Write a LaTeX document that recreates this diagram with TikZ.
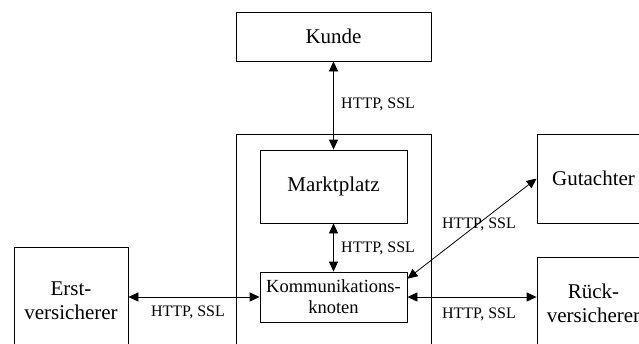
\documentclass[tikz,border=0pt]{standalone}
\usepackage{fontspec}
\setmainfont{Liberation Serif}
\usetikzlibrary{arrows.meta,calc}
\begin{document}
\begin{tikzpicture}[x=1pt,y=-1pt,
  box/.style={draw,line width=0.8pt,inner sep=0pt,align=center,font=\fontsize{21}{24}\selectfont},
  conn/.style={line width=0.8pt,{Triangle[length=10pt,width=9pt]}-{Triangle[length=10pt,width=9pt]}},
  lbl/.style={font=\fontsize{16}{18}\selectfont,inner sep=0pt}]
\useasboundingbox (0,0) rectangle (639,343);
\clip (0,0) rectangle (639,343);
\node[box,minimum width=195pt,minimum height=49pt] (kunde) at (333.5,36.5) {Kunde};
\node[box,minimum width=195pt,minimum height=226pt] (platform) at (333.5,247) {};
\node[box,minimum width=147pt,minimum height=73pt] (markt) at (333.5,186.5) {Marktplatz};
\node[box,minimum width=147pt,minimum height=50pt,font=\fontsize{18.5}{21}\selectfont] (komm) at (333.5,297) {Kommunikations-\\knoten};
\node[box,minimum width=114pt,minimum height=108pt] (erst) at (71,301) {Erst-\\versicherer};
\node[box,minimum width=113pt,minimum height=89pt] (gut) at (593.5,178.5) {Gutachter};
\node[box,minimum width=113pt,minimum height=92pt] (rueck) at (593.5,303) {Rück-\\versicherer};
\draw[conn] (kunde) -- (markt);
\draw[conn] (markt) -- (komm);
\draw[conn] (erst.east |- komm.west) -- (komm.west);
\draw[conn] (komm.east) -- (komm.east -| rueck.west);
\coordinate (kd) at ($(komm.north east)!0.14!(komm.south east)$);
\draw[conn] (kd) -- (gut.west);
\node[lbl,anchor=west] (l1) at (341,104) {HTTP, SSL};
\node[lbl,anchor=west] (l2) at (341,248) {HTTP, SSL};
\node[lbl] (l3) at (188,312) {HTTP, SSL};
\node[lbl] (l4) at (479,314) {HTTP, SSL};
\node[lbl] (l5) at (479,224) {HTTP, SSL};
\end{tikzpicture}
\end{document}
